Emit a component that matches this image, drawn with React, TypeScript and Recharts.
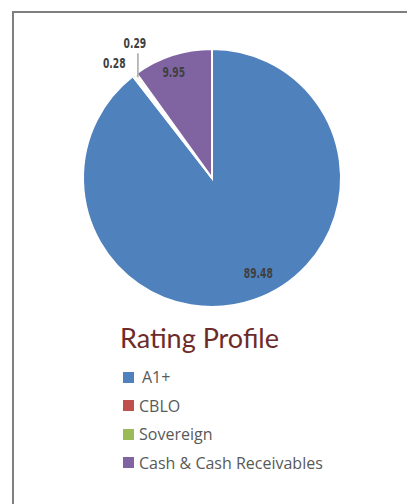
import React from 'react';
import { PieChart, Pie, Cell, Legend } from 'recharts';

const categories = ['A1+', 'CBLO', 'Sovereign', 'Cash & Cash Receivables'];
const values = [89.48, 0.28, 0.29, 9.95];
const valueLabels = ['89.48', '0.28', '0.29', '9.95'];
const colors = ['#4F81BD', '#C0504D', '#9BBB59', '#8064A2'];
const title = 'Rating Profile';

const data = categories.map((name, i) => ({ name, value: values[i], label: valueLabels[i] }));

const RAD = Math.PI / 180;

const CondText = ({ x, y, children }: any) => (
  <text
    transform={`translate(${x},${y}) scale(0.68,1)`}
    x={0}
    y={0}
    textAnchor="middle"
    dominantBaseline="central"
    fontFamily="'DejaVu Sans', sans-serif"
    fontWeight={700}
    fontSize={13.5}
    fill="#404040"
  >
    {children}
  </text>
);

const renderLabel = (props: any) => {
  const { cx, cy, midAngle, outerRadius, index } = props;
  const cos = Math.cos(-midAngle * RAD);
  const sin = Math.sin(-midAngle * RAD);
  if (index === 0 || index === 3) {
    const r = outerRadius * (index === 0 ? 0.82 : 0.87);
    const a = index === 0 ? midAngle + 7 : midAngle + 2;
    const x = cx + r * Math.cos(-a * RAD);
    const y = cy + r * Math.sin(-a * RAD);
    return <CondText x={x} y={y}>{data[index].label}</CondText>;
  }
  if (index === 2) {
    const ex = cx + (outerRadius - 4) * cos;
    const ey = cy + (outerRadius - 4) * sin;
    return (
      <g>
        <line x1={ex} y1={ey} x2={ex} y2={ey - 24} stroke="#A6A6A6" strokeWidth={1.5} />
        <CondText x={ex - 3} y={ey - 34}>{data[index].label}</CondText>
      </g>
    );
  }
  const r = outerRadius + 22;
  const a = midAngle + 3;
  const x = cx + r * Math.cos(-a * RAD);
  const y = cy + r * Math.sin(-a * RAD);
  return <CondText x={x} y={y}>{data[index].label}</CondText>;
};

const renderLegend = () => (
  <div style={{ width: 407 }}>
    <div
      style={{
        textAlign: 'center',
        fontFamily: 'Lato, sans-serif',
        fontSize: 27,
        color: '#6E2B2B',
        marginLeft: -8,
        lineHeight: '30px',
        height: 30,
      }}
    >
      {title}
    </div>
    <div style={{ marginLeft: 123, marginTop: 10 }}>
      {categories.map((c, i) => (
        <div
          key={c}
          style={{
            display: 'flex',
            alignItems: 'center',
            height: 28.5,
            fontFamily: "'Open Sans', sans-serif",
            fontSize: 16,
            color: '#595959',
          }}
        >
          <span style={{ display: 'inline-block', width: 11, height: 11, background: colors[i], marginRight: i === 0 ? 8 : 5 }} />
          <span>{c}</span>
        </div>
      ))}
    </div>
  </div>
);

export default function App() {
  return (
    <div style={{ position: 'absolute', left: 0, top: 0, width: 407, height: 504, background: '#fff', overflow: 'hidden' }}>
      <div
        style={{
          position: 'absolute',
          left: 12,
          top: 11,
          width: 420,
          height: 520,
          borderLeft: '2px solid #7F7F7F',
          borderTop: '2px solid #7F7F7F',
        }}
      />
      <div style={{ position: 'absolute', left: 0, top: 0 }}>
        <PieChart width={407} height={504} margin={{ top: 0, right: 0, bottom: 0, left: 0 }}>
          <Pie
            data={data}
            dataKey="value"
            nameKey="name"
            cx={212}
            cy={178}
            outerRadius={129}
            startAngle={90}
            endAngle={-270}
            stroke="#FFFFFF"
            strokeWidth={2}
            label={renderLabel}
            labelLine={false}
            isAnimationActive={false}
          >
            {data.map((d, i) => (
              <Cell key={d.name} fill={colors[i]} />
            ))}
          </Pie>
          <Legend content={renderLegend} wrapperStyle={{ left: 0, top: 323, width: 407 }} />
        </PieChart>
      </div>
    </div>
  );
}
